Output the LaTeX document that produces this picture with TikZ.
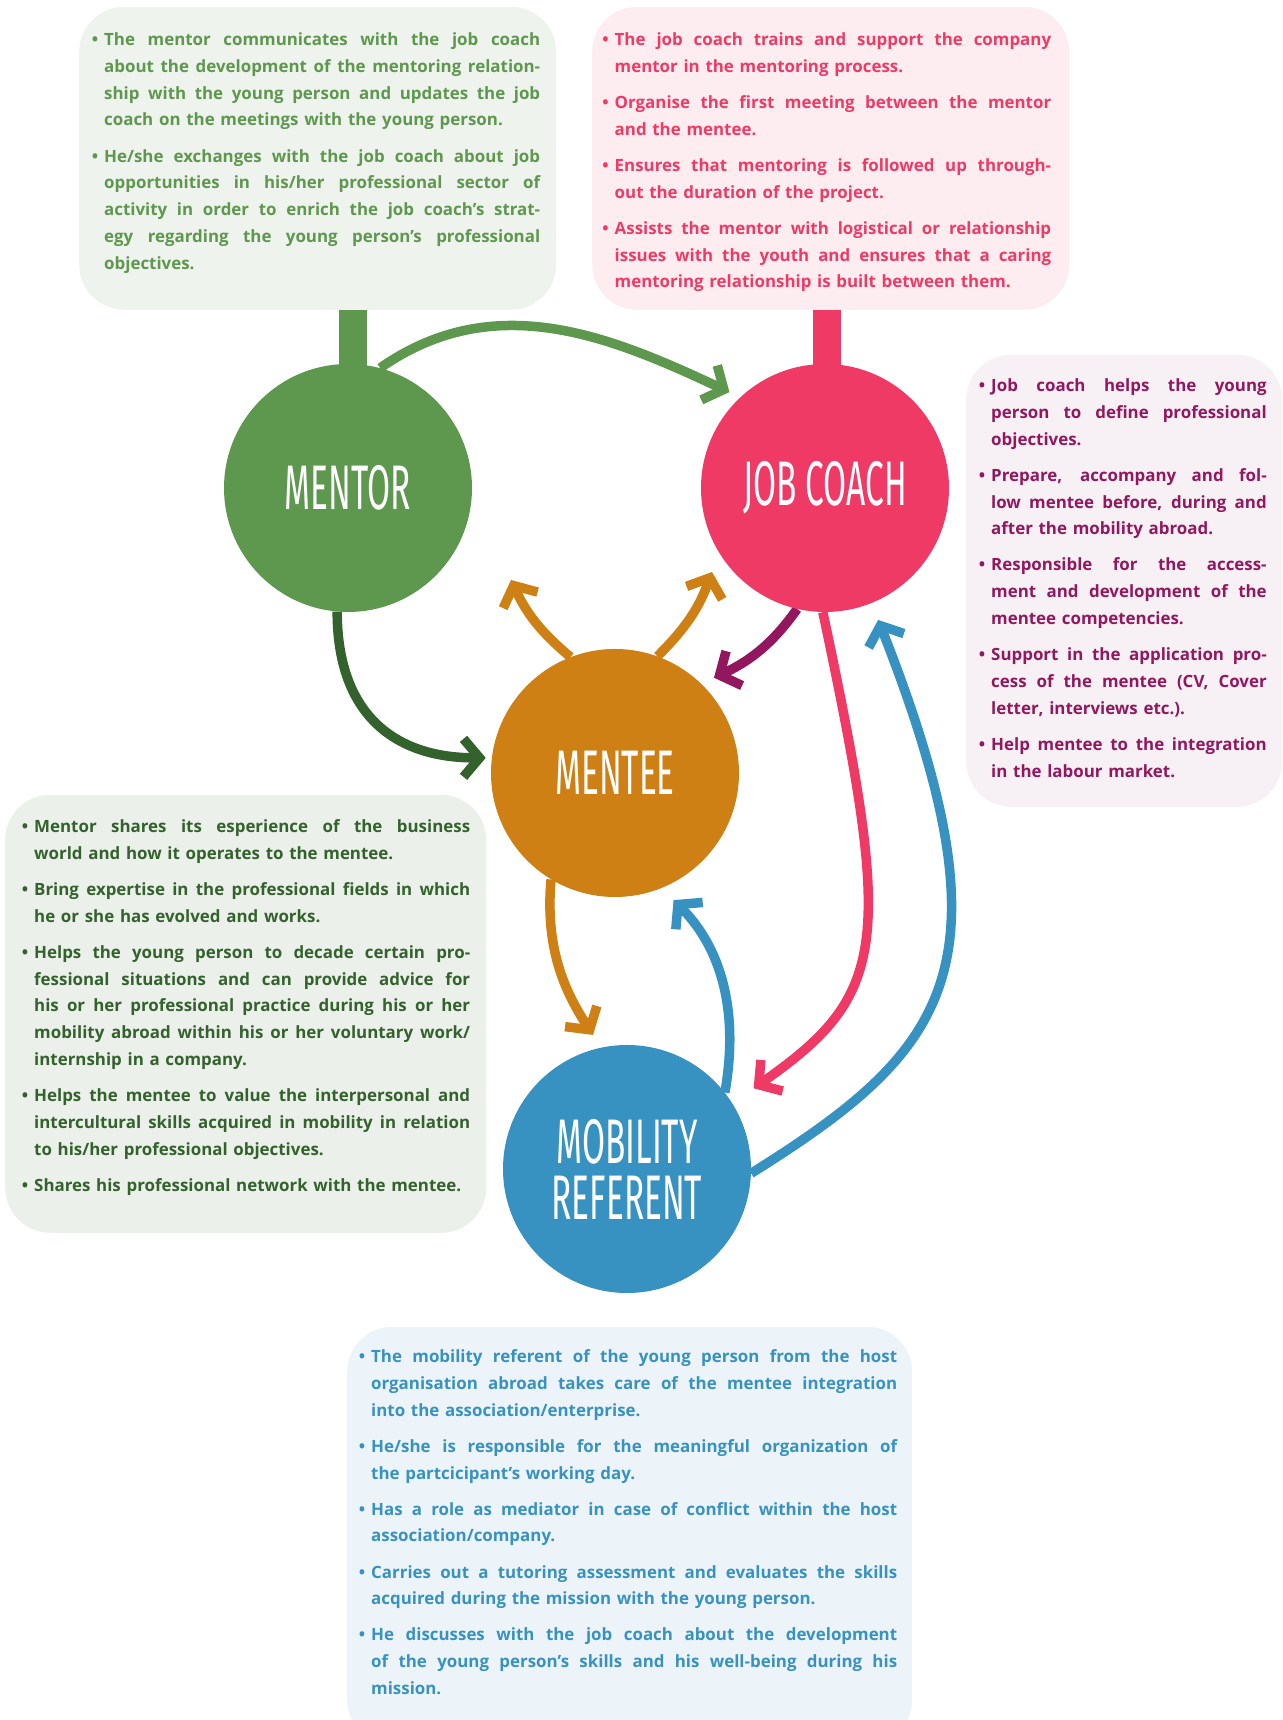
\documentclass[tikz,border=0pt]{standalone}
\usepackage{fontspec}
\setmainfont{Open Sans}[WordSpace=1.3]
\newfontfamily\rolefont[FakeStretch=0.53]{Fira Sans}
\usepackage{tikz}
\usetikzlibrary{positioning,arrows.meta,calc,backgrounds}

\definecolor{mgreen}{HTML}{5E974E}
\definecolor{dgreen}{HTML}{33622D}
\definecolor{jpink}{HTML}{EF3A66}
\definecolor{morange}{HTML}{CE8015}
\definecolor{mblue}{HTML}{3792C1}
\definecolor{jpurple}{HTML}{93175F}
\definecolor{gbg}{HTML}{EFF3EE}
\definecolor{pbg}{HTML}{FDEDF1}
\definecolor{vbg}{HTML}{F7F1F5}
\definecolor{lbg}{HTML}{EBF0EA}
\definecolor{bbg}{HTML}{EDF4F9}

\hyphenpenalty=10000
\newcommand\bul{\leavevmode\llap{\textbullet\hspace{6pt}}}
\newcommand\nxt{\par\vspace{9.3pt}\bul}

\tikzset{
  role/.style={circle,inner sep=0pt,minimum size=248pt,text=white,align=center,
               font=\rolefont\fontsize{63}{56}\selectfont},
  card/.style={rounded corners=45pt,inner sep=0pt,anchor=south west},
  txt/.style={inner sep=0pt,anchor=base west,align=justify,
              font=\bfseries\fontsize{16.9}{26.8}\selectfont},
  stem/.style={line width=28pt},
  fl/.style={line width=9.5pt,-{Straight Barb[length=16pt,width=38pt,sharp]}},
}

\begin{document}
\begin{tikzpicture}[x=1pt,y=1pt]
\useasboundingbox (0,0) rectangle (1282,1720);
% the four roles
\node[role,fill=mgreen] (mentor) at (348,1232) {MENTOR};
\node[role,fill=jpink] (jobcoach) at (825,1232) {JOB COACH};
\node[role,fill=morange] (mentee) at (615,947) {MENTEE};
\node[role,fill=mblue] (mobility) at (627,551) {MOBILITY\\REFERENT};
% cards
\begin{scope}[on background layer]
\node[card,fill=gbg,minimum width=477pt,minimum height=303pt] (mentorcard) at (79,1410) {};
\node[card,fill=pbg,minimum width=477pt,minimum height=303pt] (coachcard) at (592,1410) {};
\node[card,fill=vbg,minimum width=316pt,minimum height=452pt] (coachcard2) at (966,913) {};
\node[card,fill=lbg,minimum width=481pt,minimum height=438pt] (mentorcard2) at (5,487) {};
\node[card,fill=bbg,minimum width=565pt,minimum height=418pt] (mobcard) at (347,-25) {};
\draw[stem,mgreen] ([xshift=5pt]mentor.center) -- ([xshift=5pt]mentor.center |- mentorcard.south);
\draw[stem,jpink] ([xshift=2pt]jobcoach.center) -- ([xshift=2pt]jobcoach.center |- coachcard.south);
\end{scope}
\node[txt,text=mgreen,text width=436pt] (mentortxt) at ($(mentorcard.north west)+(25,-39)$)
  {\bul The mentor communicates with the job coach\linebreak about the development of the mentoring relation-\linebreak ship with the young person and updates the job\linebreak coach on the meetings with the young person.
   \nxt He/she exchanges with the job coach about job\linebreak opportunities in his/her professional sector of\linebreak activity in order to enrich the job coach’s strat-\linebreak egy regarding the young person’s professional\linebreak objectives.};
\node[txt,text=jpink,text width=436.5pt] (coachtxt) at ($(coachcard.north west)+(22.5,-39)$)
  {\bul The job coach trains and support the company\linebreak mentor in the mentoring process.
   \nxt Organise the first meeting between the mentor\linebreak and the mentee.
   \nxt Ensures that mentoring is followed up through-\linebreak out the duration of the project.
   \nxt Assists the mentor with logistical or relationship\linebreak issues with the youth and ensures that a caring\linebreak mentoring relationship is built between them.};
\node[txt,text=jpurple,text width=275.5pt] (coachtxt2) at ($(coachcard2.north west)+(25,-37)$)
  {\bul Job coach helps the young\linebreak person to define professional\linebreak objectives.
   \nxt Prepare, accompany and fol-\linebreak low mentee before, during and\linebreak after the mobility abroad.
   \nxt Responsible for the access-\linebreak ment and development of the\linebreak mentee competencies.
   \nxt Support in the application pro-\linebreak cess of the mentee (CV, Cover\linebreak letter, interviews etc.).
   \nxt Help mentee to the integration\linebreak in the labour market.};
\node[txt,text=dgreen,text width=436pt] (mentortxt2) at ($(mentorcard2.north west)+(29,-38)$)
  {\bul Mentor shares its esperience of the business\linebreak world and how it operates to the mentee.
   \nxt Bring expertise in the professional fields in which\linebreak he or she has evolved and works.
   \nxt Helps the young person to decade certain pro-\linebreak fessional situations and can provide advice for\linebreak his or her professional practice during his or her\linebreak mobility abroad within his or her voluntary work/\linebreak internship in a company.
   \nxt Helps the mentee to value the interpersonal and\linebreak intercultural skills acquired in mobility in relation\linebreak to his/her professional objectives.
   \nxt Shares his professional network with the mentee.};
\node[txt,text=mblue,text width=526pt] (mobtxt) at ($(mobcard.north west)+(24,-36)$)
  {\bul The mobility referent of the young person from the host\linebreak organisation abroad takes care of the mentee integration\linebreak into the association/enterprise.
   \nxt He/she is responsible for the meaningful organization of\linebreak the partcicipant’s working day.
   \nxt Has a role as mediator in case of conflict within the host\linebreak association/company.
   \nxt Carries out a tutoring assessment and evaluates the skills\linebreak acquired during the mission with the young person.
   \nxt He discusses with the job coach about the development\linebreak of the young person’s skills and his well-being during his\linebreak mission.};
% arrows
\coordinate (upl) at (511,1140);
\coordinate (upr) at (712,1148);
\begin{scope}[on background layer]
\draw[fl,mgreen,shorten >=12pt] (mentor.75) to[out=35,in=155] (jobcoach.133);
\draw[fl,dgreen,shorten >=6pt] (mentor.-95) to[out=-90,in=180,looseness=1.2] (mentee.173);
\draw[fl,morange] (mentee.111) to[out=140,in=-65] (upl);
\draw[fl,morange] (mentee.70) to[out=45,in=-110] (upr);
\draw[fl,jpurple,shorten >=14pt] (jobcoach.-103) to[out=-125,in=25] (mentee.46);
\draw[fl,jpink,shorten >=26pt] (jobcoach.-91) .. controls +(-78:340) and +(35:190) .. (mobility.32);
\draw[fl,mblue,shorten >=18pt] (mobility.-2) .. controls +(32:235) and +(-68.5:390) .. (jobcoach.-68.5);
\draw[fl,morange,shorten >=15pt] (mentee.-121) to[out=-95,in=123] (mobility.102);
\draw[fl,mblue,shorten >=17pt] (mobility.38) to[out=80,in=-45] (mentee.-68);
\end{scope}
\end{tikzpicture}
\end{document}
